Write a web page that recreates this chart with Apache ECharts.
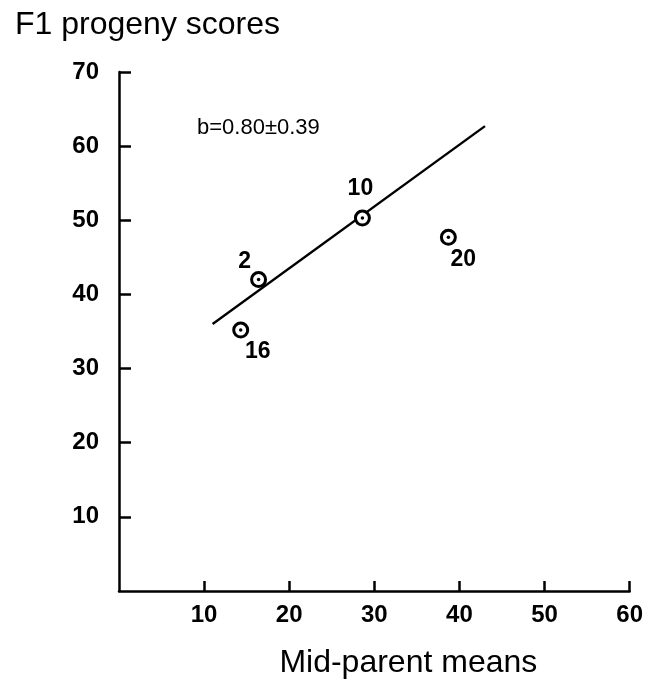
<!DOCTYPE html>
<html>
<head>
<meta charset="utf-8">
<script src="https://cdn.jsdelivr.net/npm/echarts@6/dist/echarts.min.js"></script>
<style>
  html, body { margin: 0; padding: 0; background: #fff; }
  #chart { width: 646px; height: 684px; }
</style>
</head>
<body>
<div id="chart"></div>
<script>
// ---- data ----
const pointLabels = ['16', '2', '10', '20'];
const midParent = [14.3, 16.4, 28.6, 38.7];
const progenyScores = [35.2, 42.0, 50.3, 47.7];
const fitX = [11.0, 43.0];
const fitY = [36.0, 62.7];
const slopeText = 'b=0.80\u00b10.39';
const titleText = 'F1 progeny scores';
const xAxisName = 'Mid-parent means';

// ---- styling ----
const labelOffsets = [[17, 22], [-14, -18], [-2, -29], [15, 22]];
const FONT = '"Liberation Sans", Arial, sans-serif';

const chart = echarts.init(document.getElementById('chart'));

const points = midParent.map((x, i) => ({
  value: [x, progenyScores[i]],
  name: pointLabels[i],
  label: { offset: labelOffsets[i] }
}));
const dots = midParent.map((x, i) => [x, progenyScores[i]]);
const fitLine = fitX.map((x, i) => [x, fitY[i]]);

chart.setOption({
  animation: false,
  backgroundColor: '#fff',
  title: {
    text: titleText,
    left: 10,
    top: 4,
    textStyle: { fontFamily: FONT, fontSize: 32, fontWeight: 'normal', color: '#000' }
  },
  grid: { left: 119, right: 9, top: 72, bottom: 93 },
  xAxis: {
    type: 'value',
    min: 0, max: 60, interval: 10,
    name: xAxisName,
    nameLocation: 'middle',
    nameGap: 56,
    nameTextStyle: { fontFamily: FONT, fontSize: 32, color: '#000', padding: [0, 0, 0, 68] },
    axisLine: { show: true, lineStyle: { color: '#000', width: 2.5 } },
    axisTick: { show: true, inside: true, length: 10, lineStyle: { color: '#000', width: 2.5 } },
    axisLabel: {
      showMinLabel: false,
      margin: 12,
      fontFamily: FONT, fontSize: 24, fontWeight: 'bold', color: '#000'
    },
    splitLine: { show: false }
  },
  yAxis: {
    type: 'value',
    min: 0, max: 70, interval: 10,
    axisLine: { show: true, lineStyle: { color: '#000', width: 2.5 } },
    axisTick: { show: true, inside: true, length: 12, lineStyle: { color: '#000', width: 2.5 } },
    axisLabel: {
      showMinLabel: false,
      margin: 20,
      fontFamily: FONT, fontSize: 24, fontWeight: 'bold', color: '#000'
    },
    splitLine: { show: false }
  },
  graphic: [{
    type: 'text',
    left: 197,
    top: 117,
    style: { text: slopeText, fontFamily: FONT, fontSize: 22, fill: '#000' }
  }],
  series: [
    {
      type: 'line',
      data: fitLine,
      symbol: 'none',
      lineStyle: { color: '#000', width: 2.4 },
      z: 2
    },
    {
      type: 'scatter',
      data: points,
      symbol: 'circle',
      symbolSize: 14,
      itemStyle: { color: '#fff', borderColor: '#000', borderWidth: 3, opacity: 1 },
      label: {
        show: true,
        position: 'inside',
        formatter: p => p.name,
        fontFamily: FONT, fontSize: 23, fontWeight: 'bold', color: '#000',
        textBorderWidth: 0
      },
      z: 3
    },
    {
      type: 'scatter',
      data: dots,
      symbol: 'circle',
      symbolSize: 3.5,
      itemStyle: { color: '#000', opacity: 1 },
      z: 4
    }
  ]
});
</script>
</body>
</html>
